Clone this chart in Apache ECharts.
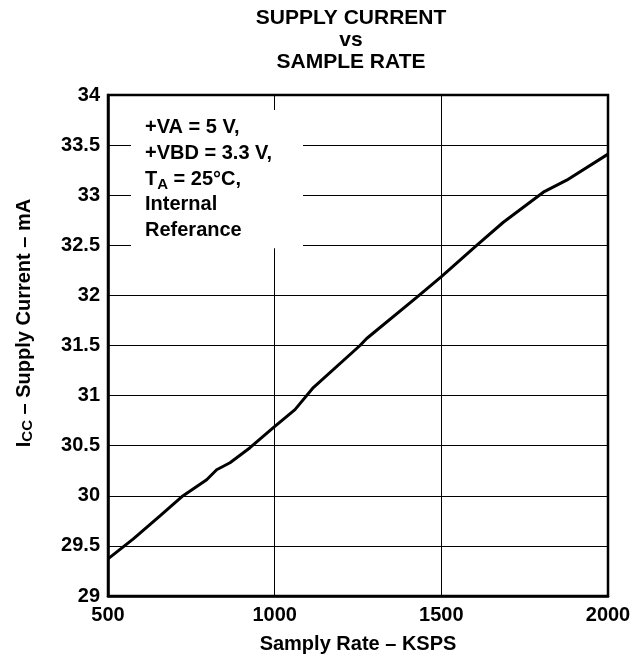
<!DOCTYPE html>
<html>
<head>
<meta charset="utf-8">
<script src="https://cdn.jsdelivr.net/npm/echarts@6/dist/echarts.min.js"></script>
<style>
html,body{margin:0;padding:0;background:#fff;}
#c{width:644px;height:662px;}
</style>
</head>
<body>
<div id="c"></div>
<script>
const sampleRate = [500, 576, 656, 721, 796, 826, 866, 926, 996, 1061, 1116, 1256, 1276, 1426, 1501, 1606, 1686, 1806, 1876, 2000];
const supplyCurrent = [29.37, 29.57, 29.8, 29.99, 30.16, 30.26, 30.33, 30.48, 30.68, 30.86, 31.08, 31.5, 31.57, 31.98, 32.19, 32.5, 32.73, 33.03, 33.15, 33.41];
const xTicks = [500, 1000, 1500, 2000];
const yTicks = [29, 29.5, 30, 30.5, 31, 31.5, 32, 32.5, 33, 33.5, 34];
const titleLines = ['SUPPLY CURRENT', 'vs', 'SAMPLE RATE'];
const noteLines = ['+VA = 5 V,', '+VBD = 3.3 V,', 'T{s|A} = 25°C,', 'Internal', 'Referance'];
const xName = 'Samply Rate – KSPS';
const yName = 'I{s|CC} – Supply Current – mA';

const FONT = '"Liberation Sans", Arial, Helvetica, sans-serif';
const chart = echarts.init(document.getElementById('c'), null, {renderer: 'canvas'});
const data = sampleRate.map((x, i) => [x, supplyCurrent[i]]);

chart.setOption({
  animation: false,
  backgroundColor: '#fff',
  title: {
    text: titleLines.join('\n'),
    left: 346, top: 2, textAlign: 'center',
    textStyle: {fontFamily: FONT, fontWeight: 'bold', fontSize: 21, lineHeight: 22, color: '#000'}
  },
  grid: {left: 108, right: 36, top: 95, bottom: 66, show: true, borderColor: '#000', borderWidth: 2.5, backgroundColor: 'transparent'},
  xAxis: {
    type: 'value', min: xTicks[0], max: xTicks[xTicks.length - 1], interval: 500,
    name: xName, nameLocation: 'middle', nameGap: 38,
    nameTextStyle: {fontFamily: FONT, fontWeight: 'bold', fontSize: 20, color: '#000'},
    axisLine: {show: true, lineStyle: {color: '#000', width: 2.5}},
    axisTick: {show: false},
    axisLabel: {fontFamily: FONT, fontWeight: 'bold', fontSize: 20, color: '#000', margin: 9, formatter: v => String(v)},
    splitLine: {show: true, lineStyle: {color: '#000', width: 1}}
  },
  yAxis: {
    type: 'value', min: yTicks[0], max: yTicks[yTicks.length - 1], interval: 0.5,
    axisLine: {show: true, lineStyle: {color: '#000', width: 2.5}},
    axisTick: {show: false},
    axisLabel: {fontFamily: FONT, fontWeight: 'bold', fontSize: 20, color: '#000', margin: 8, formatter: v => String(v)},
    splitLine: {show: true, lineStyle: {color: '#000', width: 1}}
  },
  series: [{
    type: 'line', data: data, showSymbol: false, smooth: false,
    lineStyle: {color: '#000', width: 3},
    markArea: {
      silent: true,
      itemStyle: {color: '#fff', opacity: 1},
      data: [[{xAxis: 569, yAxis: 33.85}, {xAxis: 1085, yAxis: 32.47}]]
    },
    z: 3
  }],
  graphic: [{
    type: 'text', left: 145, top: 115, z: 10,
    style: {
      text: noteLines.join('\n'),
      fontFamily: FONT, fontWeight: 'bold', fontSize: 20, lineHeight: 25.7, fill: '#000',
      rich: {
        s: {fontFamily: FONT, fontWeight: 'bold', fontSize: 15, fill: '#000', verticalAlign: 'bottom', lineHeight: 25.7, padding: [9, 0, 0, 0]}
      }
    }
  }, {
    type: 'text', x: 24, y: 323, rotation: Math.PI / 2, z: 10,
    style: {
      text: yName, align: 'center', verticalAlign: 'middle',
      fontFamily: FONT, fontWeight: 'bold', fontSize: 20, fill: '#000',
      rich: {
        s: {fontFamily: FONT, fontWeight: 'bold', fontSize: 15, fill: '#000', verticalAlign: 'bottom', padding: [8, 0, 0, 0]}
      }
    }
  }]
});
</script>
</body>
</html>
